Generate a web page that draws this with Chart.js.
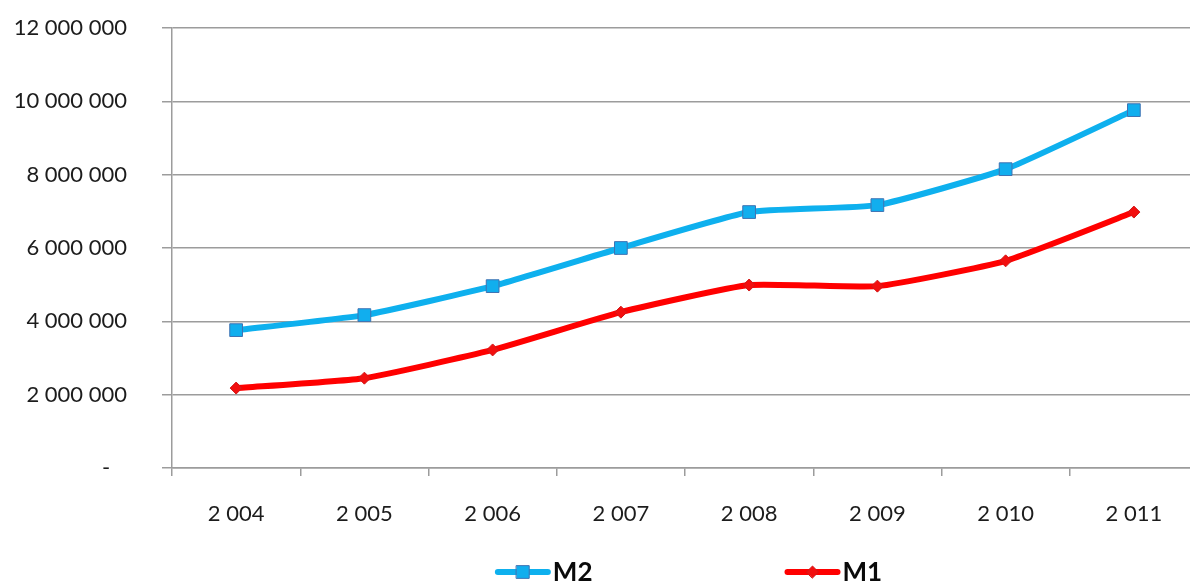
<!DOCTYPE html>
<html>
<head>
<meta charset="utf-8">
<script src="https://cdn.jsdelivr.net/npm/chart.js@4/dist/chart.umd.min.js"></script>
<style>
  html, body { margin: 0; padding: 0; background: #fff; overflow: hidden; }
  #wrap { position: relative; width: 1208px; height: 583px; }
</style>
</head>
<body>
<div id="wrap"><canvas id="chart" width="1208" height="583"></canvas></div>
<script>
// Money supply aggregates by year
const years = [2004, 2005, 2006, 2007, 2008, 2009, 2010, 2011];
const m2Values = [3760000, 4170000, 4960000, 6000000, 6980000, 7170000, 8150000, 9760000];
const m1Values = [2180000, 2450000, 3220000, 4250000, 4990000, 4960000, 5650000, 6980000];
const yTicks = [0, 2000000, 4000000, 6000000, 8000000, 10000000, 12000000];

const FONT = 'Lato, "Open Sans", sans-serif';
const GRID = '#9c9c9c';
const TEXT = '#1c1c1c';

// group thousands with spaces: 12000000 -> "12 000 000"
function spaced(v) {
  return String(v).replace(/\B(?=(\d{3})+(?!\d))/g, ' ');
}

// Legend drawn below the plot: a short line with the series marker, then the name
const lineLegend = {
  id: 'lineLegend',
  afterDraw(chart) {
    const ctx = chart.ctx;
    const area = chart.chartArea;
    const y = 572;
    const lineLen = 54, textGap = 3, itemGap = 193;
    ctx.save();
    ctx.font = 'bold 26px ' + FONT;
    const items = chart.data.datasets.map(ds => ({ ds, w: lineLen + textGap + ctx.measureText(ds.label).width }));
    const total = items.reduce((s, it) => s + it.w, 0) + itemGap * (items.length - 1);
    let x = (area.left + area.right) / 2 - total / 2 + 4;
    items.forEach(({ ds, w }) => {
      ctx.strokeStyle = ds.borderColor;
      ctx.lineWidth = ds.borderWidth;
      ctx.lineCap = 'round';
      ctx.beginPath();
      ctx.moveTo(x + 2, y);
      ctx.lineTo(x + lineLen - 2, y);
      ctx.stroke();
      ctx.fillStyle = ds.pointBackgroundColor;
      ctx.strokeStyle = ds.pointBorderColor;
      ctx.lineWidth = ds.pointBorderWidth;
      Chart.helpers.drawPoint(ctx, {
        pointStyle: ds.pointStyle,
        radius: ds.pointRadius,
        borderWidth: ds.pointBorderWidth
      }, x + lineLen / 2, y);
      ctx.fillStyle = '#0a0a0a';
      ctx.textAlign = 'left';
      ctx.textBaseline = 'middle';
      ctx.fillText(ds.label, x + lineLen + textGap, y + 1);
      x += w + itemGap;
    });
    ctx.restore();
  }
};

new Chart(document.getElementById('chart'), {
  type: 'line',
  data: {
    labels: years,
    datasets: [
      {
        label: 'M2',
        data: m2Values,
        borderColor: '#0eb0ee',
        borderWidth: 6,
        tension: 0.15,
        pointStyle: 'rect',
        pointRadius: 9,
        pointBackgroundColor: '#11aeee',
        pointBorderColor: '#3f73b3',
        pointBorderWidth: 1
      },
      {
        label: 'M1',
        data: m1Values,
        borderColor: '#ff0000',
        borderWidth: 6,
        tension: 0.15,
        pointStyle: 'rectRot',
        pointRadius: 6,
        pointBackgroundColor: '#f20f0f',
        pointBorderColor: '#d01818',
        pointBorderWidth: 1
      }
    ]
  },
  options: {
    responsive: false,
    animation: false,
    devicePixelRatio: 1,
    layout: { padding: { left: 0, right: 2, top: 28, bottom: 0 } },
    plugins: {
      legend: { display: false },
      tooltip: { enabled: false }
    },
    scales: {
      x: {
        type: 'category',
        offset: true,
        afterFit(scale) {
          scale.height = 115;
          scale.paddingLeft = 0;
          scale.paddingRight = 0;
        },
        grid: {
          offset: true,
          drawOnChartArea: false,
          drawTicks: true,
          tickLength: 8,
          color: GRID,
          lineWidth: 1.5
        },
        border: { display: true, color: GRID, width: 1.5 },
        ticks: {
          padding: 25,
          color: TEXT,
          font: { family: FONT, size: 22 },
          maxRotation: 0,
          callback(value) { return spaced(this.getLabelForValue(value)); }
        }
      },
      y: {
        min: 0,
        max: 12000000,
        afterFit(scale) {
          scale.width = 172;
          scale.paddingTop = 12;
          scale.paddingBottom = 12;
        },
        afterBuildTicks(scale) { scale.ticks = yTicks.map(v => ({ value: v })); },
        grid: {
          color: GRID,
          lineWidth: 1.5,
          tickLength: 10
        },
        border: { display: true, color: GRID, width: 1.5 },
        ticks: {
          padding: 35,
          color: TEXT,
          font: { family: FONT, size: 22 },
          callback(v) { return v === 0 ? '-   ' : spaced(v); }
        }
      }
    }
  },
  plugins: [lineLegend]
});
</script>
</body>
</html>
